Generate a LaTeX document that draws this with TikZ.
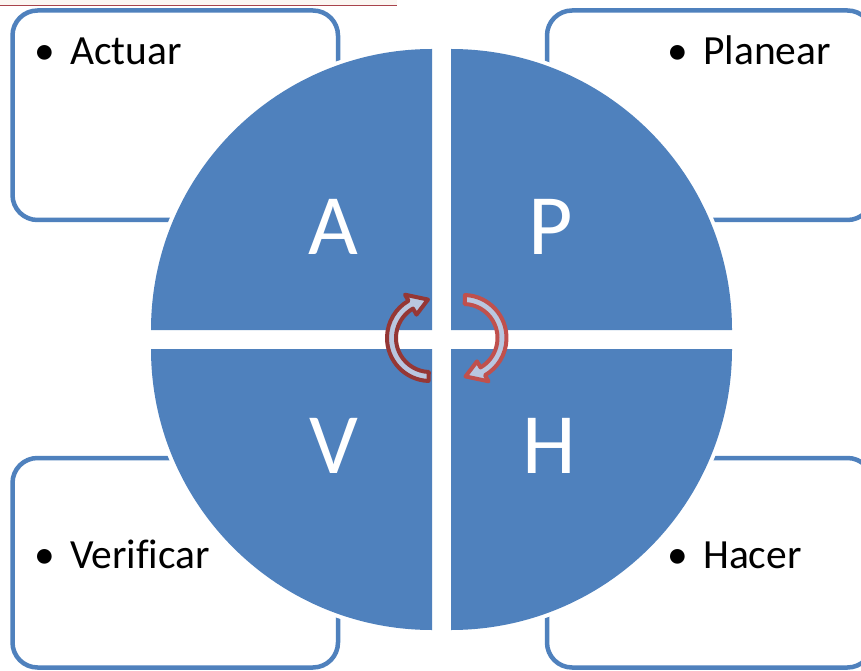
\documentclass[tikz,border=0pt]{standalone}
\usepackage{fontspec}
\setmainfont[Ligatures=NoCommon]{Carlito}
\definecolor{qblue}{HTML}{4F81BD}
\definecolor{arrdark}{HTML}{953735}
\definecolor{arrlight}{HTML}{C0504D}
\definecolor{arrfill}{HTML}{B9C7E0}
\definecolor{topline}{HTML}{A8434B}
\definecolor{topband}{HTML}{FBF6F2}
\begin{document}
\begin{tikzpicture}[x=1pt,y=1pt,
  labelbox/.style={draw=qblue, line width=4.5pt, rounded corners=25pt,
    minimum width=325.5pt, minimum height=209.5pt, inner sep=0pt, fill=white},
  itemtext/.style={anchor=base west, inner sep=0pt,
    font=\fontsize{41.5}{50}\selectfont, text=black},
  quadletter/.style={anchor=base, inner sep=0pt,
    font=\fontsize{86}{100}\selectfont, text=white},
  cycarrow/.style={line width=4pt, fill=arrfill, line join=round},
  cyclearrow/.pic={
    \draw[pic actions] (268:43) arc[start angle=268, end angle=120, radius=43]
      -- (120:50) -- (93:38.5) -- (120:27) -- (120:34)
      arc[start angle=120, end angle=268, radius=34] -- cycle;
  }]
\useasboundingbox (0,0) rectangle (861,670);
\fill[white] (0,0) rectangle (861,670);
\fill[topband] (0,670) rectangle (397,664.5);
\draw[topline, line width=1pt] (0,664.5) -- (397,664.5);

% outer boxes
\node[labelbox] (boxA) at (175.25,554.75) {};
\node[labelbox] (boxP) at (709.75,554.75) {};
\node[labelbox] (boxV) at (175.25,107.25) {};
\node[labelbox] (boxH) at (709.75,107.25) {};

\node[itemtext] (tA) at (34,605) {\makebox[36pt][l]{•}Actuar};
\node[itemtext] (tP) at (667,605) {\makebox[36pt][l]{•}Planear};
\node[itemtext] (tV) at (34,102) {\makebox[36pt][l]{•}Verificar};
\node[itemtext] (tH) at (667,102) {\makebox[36pt][l]{•}Hacer};

% quadrants
\foreach \cx/\cy/\a in {432/340/90, 451/340/0, 432/321/180, 451/321/270} {
  \fill[white] (\cx,\cy) -- ++(\a:285) arc[start angle=\a, end angle=\a+90, radius=285] -- cycle;
  \fill[qblue] (\cx,\cy) -- ++(\a:281) arc[start angle=\a, end angle=\a+90, radius=281] -- cycle;
}

\node[quadletter] (lA) at (333,415) {A};
\node[quadletter] (lP) at (551,415) {P};
\node[quadletter] (lV) at (334,197) {V};
\node[quadletter] (lH) at (549,197) {H};

% cycle arrows
\pic[cycarrow, draw=arrdark] (arrL) at (430,332) {cyclearrow};
\pic[cycarrow, draw=arrlight, rotate=180] (arrR) at (463.5,332) {cyclearrow};
\end{tikzpicture}
\end{document}
